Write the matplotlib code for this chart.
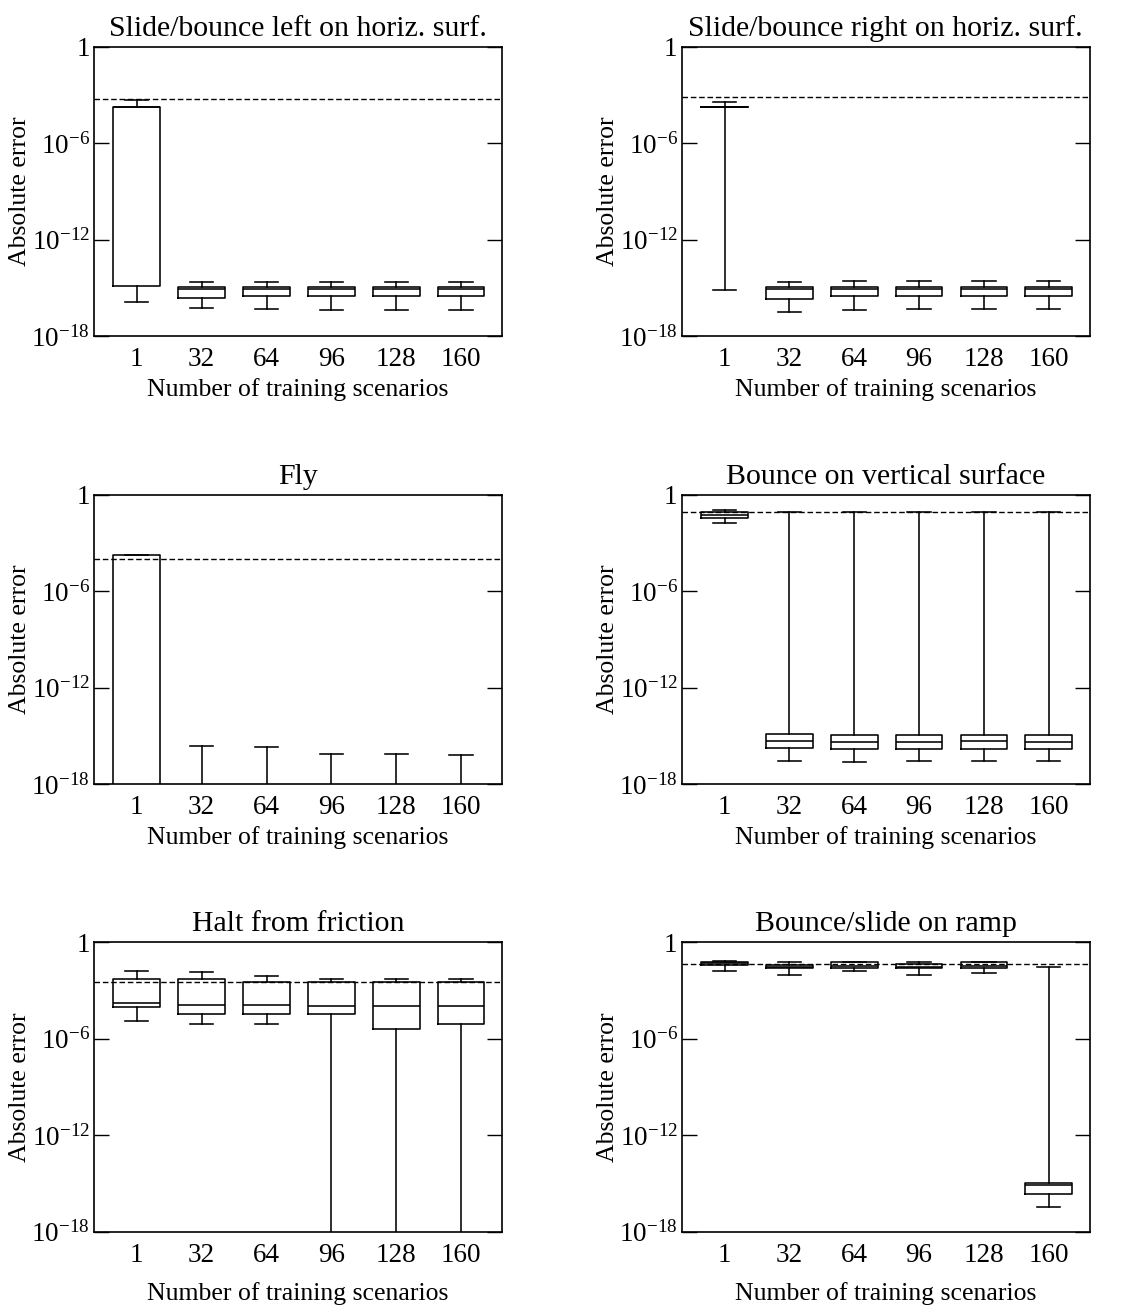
import matplotlib
matplotlib.use("Agg")
import matplotlib.pyplot as plt
import numpy as np

n_scenarios = ["1", "32", "64", "96", "128", "160"]

# all values below are log10 of the absolute error; -30 means "below the axis"
# Slide/bounce left on horiz. surf.
left_lo = [-15.86, -16.24, -16.32, -16.38, -16.38, -16.38]
left_q1 = [-14.87, -15.61, -15.49, -15.49, -15.49, -15.49]
left_med = [-3.72, -15.09, -15.09, -15.09, -15.09, -15.09]
left_q3 = [-3.72, -14.97, -14.95, -14.95, -14.95, -14.95]
left_hi = [-3.30, -14.62, -14.62, -14.62, -14.62, -14.62]
left_ref = -3.26

# Slide/bounce right on horiz. surf.
right_lo = [-15.13, -16.49, -16.38, -16.32, -16.32, -16.32]
right_q1 = [-3.72, -15.69, -15.53, -15.53, -15.53, -15.53]
right_med = [-3.72, -15.09, -15.09, -15.09, -15.09, -15.09]
right_q3 = [-3.72, -14.97, -14.93, -14.93, -14.93, -14.93]
right_hi = [-3.41, -14.62, -14.58, -14.58, -14.58, -14.58]
right_ref = -3.13

# Fly
fly_lo = [-30, -30, -30, -30, -30, -30]
fly_q1 = [-30, -30, -30, -30, -30, -30]
fly_med = [-30, -30, -30, -30, -30, -30]
fly_q3 = [-3.73, -30, -30, -30, -30, -30]
fly_hi = [-3.73, -15.62, -15.72, -16.11, -16.14, -16.20]
fly_ref = -4.02

# Bounce on vertical surface
vert_lo = [-1.75, -16.57, -16.61, -16.57, -16.57, -16.57]
vert_q1 = [-1.45, -15.78, -15.80, -15.80, -15.80, -15.80]
vert_med = [-1.28, -15.33, -15.37, -15.37, -15.35, -15.37]
vert_q3 = [-1.08, -14.87, -14.98, -14.98, -14.96, -14.96]
vert_hi = [-0.98, -1.05, -1.05, -1.07, -1.05, -1.10]
vert_ref = -1.1

# Halt from friction
halt_lo = [-4.89, -5.06, -5.06, -30, -30, -30]
halt_q1 = [-4.00, -4.44, -4.44, -4.44, -5.39, -5.06]
halt_med = [-3.75, -3.90, -3.90, -3.96, -3.98, -3.98]
halt_q3 = [-2.26, -2.30, -2.45, -2.45, -2.47, -2.47]
halt_hi = [-1.78, -1.82, -2.07, -2.28, -2.30, -2.30]
halt_ref = -2.45

# Bounce/slide on ramp
ramp_lo = [-1.75, -2.00, -1.80, -2.00, -1.90, -16.47]
ramp_q1 = [-1.38, -1.62, -1.58, -1.62, -1.58, -15.68]
ramp_med = [-1.30, -1.52, -1.45, -1.52, -1.45, -15.12]
ramp_q3 = [-1.22, -1.38, -1.25, -1.35, -1.25, -14.97]
ramp_hi = [-1.18, -1.25, -1.20, -1.22, -1.20, -1.55]
ramp_ref = -1.32

panels = [
    ("Slide/bounce left on horiz. surf.", left_lo, left_q1, left_med, left_q3, left_hi, left_ref),
    ("Slide/bounce right on horiz. surf.", right_lo, right_q1, right_med, right_q3, right_hi, right_ref),
    ("Fly", fly_lo, fly_q1, fly_med, fly_q3, fly_hi, fly_ref),
    ("Bounce on vertical surface", vert_lo, vert_q1, vert_med, vert_q3, vert_hi, vert_ref),
    ("Halt from friction", halt_lo, halt_q1, halt_med, halt_q3, halt_hi, halt_ref),
    ("Bounce/slide on ramp", ramp_lo, ramp_q1, ramp_med, ramp_q3, ramp_hi, ramp_ref),
]

plt.rcParams["font.family"] = ["Liberation Serif", "DejaVu Serif"]
plt.rcParams["mathtext.fontset"] = "custom"
plt.rcParams["mathtext.rm"] = "Liberation Serif"
plt.rcParams["mathtext.it"] = "Liberation Serif:italic"
plt.rcParams["mathtext.bf"] = "Liberation Serif:bold"

fig = plt.figure(figsize=(11.3, 13.06), dpi=100)

lefts = [0.0832, 0.6033]
bottoms = [0.7427, 0.3997, 0.0569]
w, h = 0.361, 0.2215

line_kw = dict(color="black", linewidth=1.15)

for i, (title, lo, q1, med, q3, hi, ref) in enumerate(panels):
    row, col = divmod(i, 2)
    ax = fig.add_axes([lefts[col], bottoms[row], w, h])

    stats = []
    for k, name in enumerate(n_scenarios):
        stats.append({
            "whislo": 10.0 ** lo[k],
            "q1": 10.0 ** q1[k],
            "med": 10.0 ** med[k],
            "q3": 10.0 ** q3[k],
            "whishi": 10.0 ** hi[k],
            "fliers": [],
            "label": name,
        })

    ax.bxp(stats, positions=np.arange(1, 7), widths=0.72, showfliers=False,
           boxprops=line_kw, whiskerprops=line_kw, capprops=line_kw,
           medianprops=line_kw)
    ax.axhline(10.0 ** ref, color="black", linestyle="--", linewidth=1.0,
               dashes=(4, 2))

    ax.set_yscale("log")
    ax.set_ylim(1e-18, 1)
    ax.set_xlim(0.34, 6.63)
    ax.set_yticks([1e-18, 1e-12, 1e-6, 1])
    ax.set_yticklabels([r"$10^{-18}$", r"$10^{-12}$", r"$10^{-6}$", "1"])
    ax.yaxis.set_minor_locator(matplotlib.ticker.NullLocator())
    ax.tick_params(axis="y", direction="in", length=10.5, width=1.0,
                   left=True, right=True, labelsize=19.5, pad=3)
    ax.tick_params(axis="x", length=0, labelsize=19.5, pad=8)
    for sp in ax.spines.values():
        sp.set_linewidth(1.2)

    ax.set_title(title, fontsize=21.5, pad=8)
    ax.set_ylabel("Absolute error", fontsize=18.5, labelpad=0)
    ax.set_xlabel("Number of training scenarios", fontsize=18.5,
                  labelpad=10 if row == 2 else 4)

fig.savefig("out.png", dpi=100)
